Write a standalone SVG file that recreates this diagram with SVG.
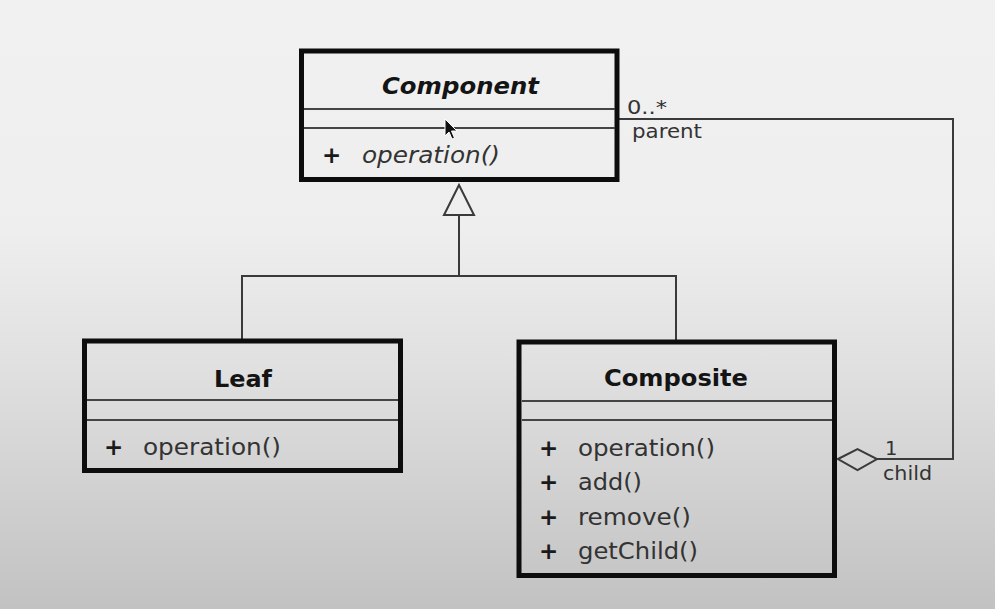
<svg xmlns="http://www.w3.org/2000/svg" width="995" height="609" viewBox="0 0 995 609">
<defs>
<linearGradient id="bg" x1="0" y1="0" x2="0" y2="1">
<stop offset="0" stop-color="#f1f1f1"/>
<stop offset="0.38" stop-color="#eeeeee"/>
<stop offset="0.62" stop-color="#dfdfdf"/>
<stop offset="1" stop-color="#c2c2c2"/>
</linearGradient>
<style>
.box{fill:none;stroke:#0d0d0d;stroke-width:5}
.div{stroke:#444;stroke-width:2}
.con{fill:none;stroke:#3a3a3a;stroke-width:2}
.title{font-family:"DejaVu Sans",sans-serif;font-weight:bold;font-size:23px;fill:#141414}
.it{font-family:"DejaVu Sans",sans-serif;font-size:23px;fill:#333}
.plus{font-family:"DejaVu Sans",sans-serif;font-weight:bold;font-size:23px;fill:#1a1a1a}
.lbl{font-family:"DejaVu Sans",sans-serif;font-size:19.5px;fill:#333}
</style>
</defs>
<rect width="995" height="609" fill="url(#bg)"/>
<g id="connectors">
<polyline class="con" points="459,215 459,276"/>
<polyline class="con" points="242,340 242,276 676,276 676,340"/>
<polygon class="con" points="459,185 444,215 474,215" fill="#f0f0f0"/>
<polyline class="con" points="617,119 953,119 953,459 877,459"/>
<polygon class="con" points="838,459 857.5,449 877,459 857.5,470" fill="#dcdcdc"/>
<text class="lbl" x="627" y="114" textLength="40" lengthAdjust="spacingAndGlyphs">0..*</text>
<text class="lbl" x="632" y="138" textLength="70" lengthAdjust="spacingAndGlyphs">parent</text>
<text class="lbl" x="885" y="455">1</text>
<text class="lbl" x="883" y="480" textLength="49" lengthAdjust="spacingAndGlyphs">child</text>
</g>
<g id="component">
<rect class="box" x="301.5" y="51" width="315.5" height="128.5"/>
<line class="div" x1="304" y1="109" x2="615" y2="109"/>
<line class="div" x1="304" y1="128" x2="615" y2="128"/>
<text class="title" x="382" y="94" font-style="italic" textLength="157" lengthAdjust="spacingAndGlyphs">Component</text>
<text class="plus" x="322" y="163">+</text>
<text class="it" x="362" y="163" font-style="italic" textLength="138" lengthAdjust="spacingAndGlyphs">operation()</text>
</g>
<g id="leaf">
<rect class="box" x="84.5" y="341" width="316" height="129.5"/>
<line class="div" x1="87" y1="400" x2="398" y2="400"/>
<line class="div" x1="87" y1="420" x2="398" y2="420"/>
<text class="title" x="214" y="387" textLength="58" lengthAdjust="spacingAndGlyphs">Leaf</text>
<text class="plus" x="104" y="455">+</text>
<text class="it" x="143" y="455" textLength="138" lengthAdjust="spacingAndGlyphs">operation()</text>
</g>
<g id="composite">
<rect class="box" x="519" y="342" width="315.5" height="233.5"/>
<line class="div" x1="522" y1="401" x2="832" y2="401"/>
<line class="div" x1="522" y1="420" x2="832" y2="420"/>
<text class="title" x="604" y="386" textLength="144" lengthAdjust="spacingAndGlyphs">Composite</text>
<text class="plus" x="539" y="456">+</text>
<text class="it" x="578" y="456" textLength="137" lengthAdjust="spacingAndGlyphs">operation()</text>
<text class="plus" x="539" y="490">+</text>
<text class="it" x="578" y="490" textLength="64" lengthAdjust="spacingAndGlyphs">add()</text>
<text class="plus" x="539" y="525">+</text>
<text class="it" x="578" y="525" textLength="113" lengthAdjust="spacingAndGlyphs">remove()</text>
<text class="plus" x="539" y="559">+</text>
<text class="it" x="578" y="559" textLength="120" lengthAdjust="spacingAndGlyphs">getChild()</text>
</g>
<path d="M445,119 L445,136 L449,132 L452,139 L454.5,138 L451.5,131 L457,131 Z" fill="#111" stroke="#fff" stroke-width="1"/>
</svg>
